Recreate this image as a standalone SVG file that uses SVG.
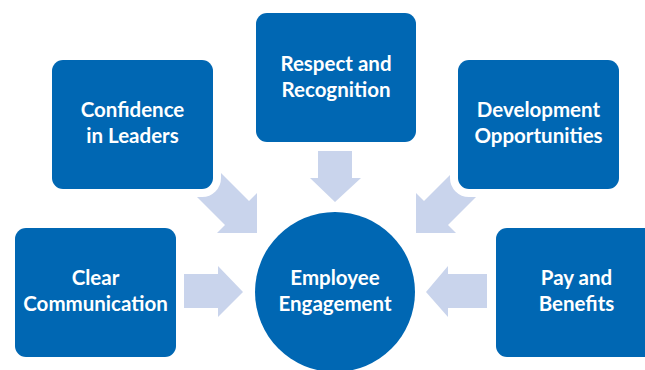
<svg xmlns="http://www.w3.org/2000/svg" width="645" height="370" viewBox="0 0 645 370">
<style>
.box{fill:#0067B3;stroke:#FFFFFF;stroke-width:16;paint-order:stroke}
.arr{fill:#C9D4EC}
.t{font-family:Lato,"Liberation Sans",sans-serif;font-weight:700;font-size:20.5px;fill:#FFFFFF;text-anchor:middle}
</style>
<rect width="645" height="370" fill="#FFFFFF"/>
<g id="connectors">
<polygon class="arr" points="184,274 218,274 218,266 243,292 218,317 218,308 184,308"/>
<polygon class="arr" points="487,274 448,274 448,266 426,292 448,317 448,308 487,308"/>
<polygon class="arr" points="318,151 352,151 352,178 361,178 335,202 310,178 318,178"/>
<path id="diagL" class="arr" d="M215,167 L249,201 L257,193 L257,233 L217,233 L225,225 L195,195 Z"/>
<use href="#diagL" transform="translate(673,0) scale(-1,1)"/>
</g>
<g id="node-confidence">
<rect class="box" x="52" y="60" width="161" height="129" rx="11"/>
<text class="t" x="132.5" y="117">Confidence</text>
<text class="t" x="132.5" y="143">in Leaders</text>
</g>
<g id="node-respect">
<rect class="box" x="256" y="13" width="160" height="129" rx="11"/>
<text class="t" x="336" y="71">Respect and</text>
<text class="t" x="336" y="97">Recognition</text>
</g>
<g id="node-development">
<rect class="box" x="458" y="60" width="161" height="129" rx="11"/>
<text class="t" x="538.5" y="117">Development</text>
<text class="t" x="538.5" y="143">Opportunities</text>
</g>
<g id="node-clear">
<rect class="box" x="15" y="228" width="161" height="129" rx="11"/>
<text class="t" x="95.5" y="285">Clear</text>
<text class="t" x="95.5" y="311">Communication</text>
</g>
<g id="node-pay">
<rect class="box" x="496" y="228" width="165" height="129" rx="11"/>
<text class="t" x="576.5" y="285">Pay and</text>
<text class="t" x="576.5" y="311">Benefits</text>
</g>
<g id="node-engagement">
<circle class="box" cx="335" cy="292" r="80" style="stroke:none"/>
<text class="t" x="335" y="285">Employee</text>
<text class="t" x="335" y="311">Engagement</text>
</g>
</svg>
